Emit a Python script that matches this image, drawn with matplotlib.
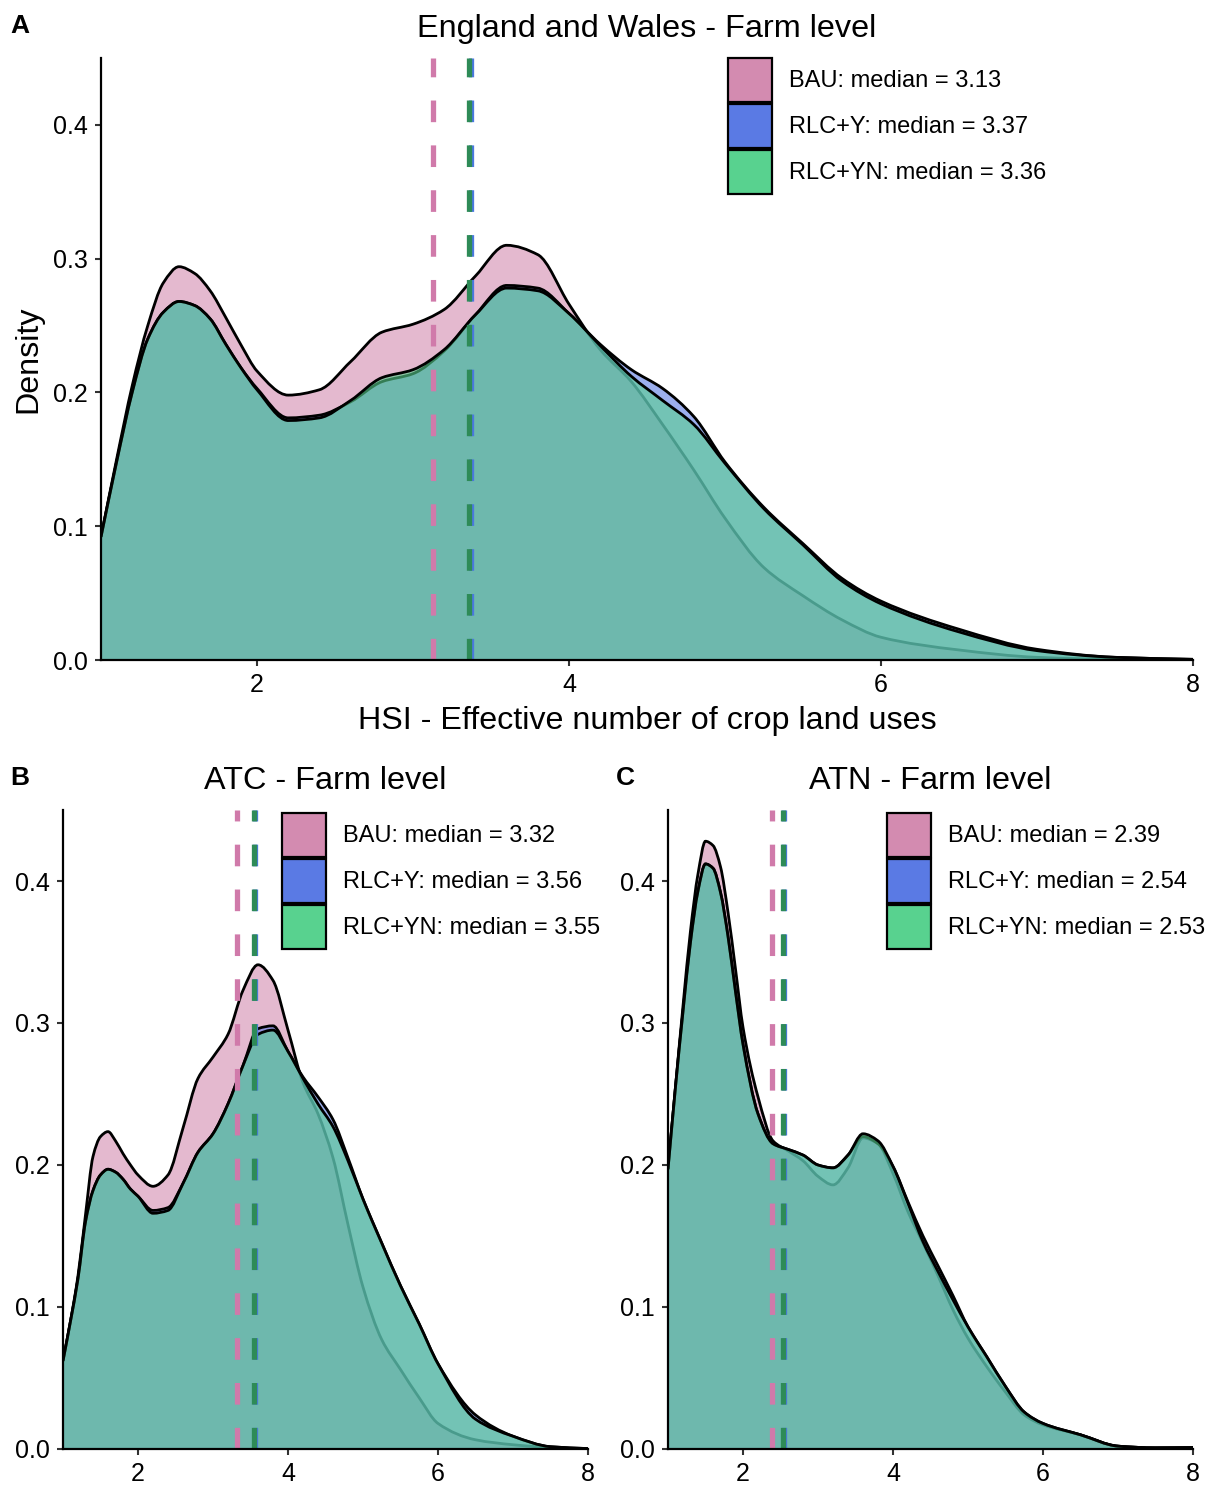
import matplotlib
matplotlib.use("Agg")
import matplotlib.pyplot as plt
from matplotlib.patches import Patch, PathPatch
from matplotlib.path import Path

plt.rcParams["font.family"] = ["Liberation Sans", "DejaVu Sans"]

W, H = 1212, 1490

# density grid shared by all three panels
GRID = [1.0, 1.1, 1.2, 1.3, 1.4, 1.5, 1.6, 1.7, 1.8, 1.9, 2.0, 2.2, 2.4, 2.6, 2.8, 3.0, 3.2,
        3.4, 3.6, 3.8, 4.0, 4.2, 4.4, 4.6, 4.8, 5.0, 5.25, 5.5, 5.75, 6.0, 6.5, 7.0, 7.5, 8.0]

SCENARIOS = ["BAU", "RLC+Y", "RLC+YN"]

# England and Wales
EW_BAU = [0.092, 0.150, 0.205, 0.250, 0.282, 0.294, 0.289, 0.276, 0.256, 0.235, 0.216, 0.198, 0.202,
          0.223, 0.245, 0.251, 0.262, 0.287, 0.310, 0.303, 0.266, 0.232, 0.208, 0.176, 0.142, 0.106,
          0.069, 0.048, 0.030, 0.017, 0.0075, 0.002, 0.0005, 0.0]
EW_Y = [0.092, 0.148, 0.200, 0.240, 0.260, 0.268, 0.265, 0.255, 0.236, 0.218, 0.203, 0.181, 0.183,
        0.193, 0.208, 0.214, 0.231, 0.258, 0.280, 0.278, 0.259, 0.236, 0.217, 0.203, 0.182, 0.148,
        0.114, 0.087, 0.061, 0.044, 0.023, 0.008, 0.002, 0.0005]
EW_YN = [0.092, 0.148, 0.200, 0.240, 0.260, 0.268, 0.265, 0.255, 0.236, 0.218, 0.202, 0.179, 0.181,
         0.194, 0.211, 0.217, 0.232, 0.258, 0.278, 0.276, 0.259, 0.235, 0.212, 0.194, 0.176, 0.147,
         0.113, 0.086, 0.059, 0.042, 0.021, 0.007, 0.002, 0.0005]
EW_MEDIANS = [3.13, 3.37, 3.36]

# ATC
ATC_BAU = [0.062, 0.090, 0.122, 0.165, 0.206, 0.220, 0.2235, 0.217, 0.208, 0.200, 0.193, 0.185, 0.193,
           0.226, 0.261, 0.276, 0.292, 0.323, 0.341, 0.330, 0.295, 0.258, 0.236, 0.205, 0.158, 0.114,
           0.077, 0.056, 0.036, 0.018, 0.0065, 0.003, 0.001, 0.0]
ATC_Y = [0.062, 0.090, 0.120, 0.160, 0.182, 0.193, 0.197, 0.195, 0.190, 0.183, 0.178, 0.168, 0.170,
         0.187, 0.209, 0.222, 0.243, 0.270, 0.296, 0.298, 0.280, 0.262, 0.248, 0.232, 0.205, 0.176,
         0.145, 0.115, 0.088, 0.060, 0.024, 0.009, 0.0016, 0.0003]
ATC_YN = [0.062, 0.090, 0.120, 0.160, 0.182, 0.193, 0.197, 0.195, 0.190, 0.183, 0.178, 0.166, 0.168,
          0.187, 0.209, 0.222, 0.243, 0.270, 0.292, 0.295, 0.280, 0.261, 0.243, 0.227, 0.203, 0.176,
          0.145, 0.115, 0.088, 0.060, 0.021, 0.009, 0.0016, 0.0003]
ATC_MEDIANS = [3.32, 3.56, 3.55]

# ATN
ATN_BAU = [0.197, 0.255, 0.312, 0.365, 0.405, 0.428, 0.425, 0.410, 0.378, 0.338, 0.297, 0.248, 0.217,
           0.210, 0.203, 0.192, 0.186, 0.198, 0.219, 0.215, 0.194, 0.167, 0.145, 0.122, 0.098, 0.078,
           0.058, 0.040, 0.024, 0.017, 0.010, 0.002, 0.0008, 0.001]
ATN_Y = [0.197, 0.255, 0.308, 0.357, 0.393, 0.412, 0.409, 0.392, 0.361, 0.322, 0.285, 0.236, 0.215,
         0.211, 0.207, 0.200, 0.198, 0.207, 0.220, 0.215, 0.199, 0.174, 0.150, 0.129, 0.108, 0.086,
         0.065, 0.044, 0.026, 0.018, 0.010, 0.002, 0.0008, 0.001]
ATN_YN = [0.197, 0.255, 0.308, 0.357, 0.393, 0.412, 0.409, 0.392, 0.361, 0.322, 0.285, 0.236, 0.215,
          0.211, 0.207, 0.200, 0.198, 0.207, 0.222, 0.217, 0.199, 0.173, 0.146, 0.125, 0.105, 0.086,
          0.065, 0.044, 0.026, 0.018, 0.010, 0.002, 0.0008, 0.001]
ATN_MEDIANS = [2.39, 2.54, 2.53]

FILLS = ["#D38BB0", "#5A7AE4", "#58D28F"]
MEDIAN_COLOURS = ["#D07AAA", "#4A78E0", "#2E8B57"]
ALPHA = 0.6


def px_box(left, top, right, bottom):
  return [left / W, 1 - bottom / H, (right - left) / W, (bottom - top) / H]


def curve_path(x, y, closed=False):
  # monotone cubic (Fritsch-Carlson tangents) drawn as bezier segments
  n = len(x)
  h = [x[i + 1] - x[i] for i in range(n - 1)]
  d = [(y[i + 1] - y[i]) / h[i] for i in range(n - 1)]
  m = [0.0] * n
  m[0], m[-1] = d[0], d[-1]
  for i in range(1, n - 1):
    if d[i - 1] * d[i] <= 0:
      m[i] = 0.0
    else:
      w1 = 2 * h[i] + h[i - 1]
      w2 = h[i] + 2 * h[i - 1]
      m[i] = (w1 + w2) / (w1 / d[i - 1] + w2 / d[i])

  verts = [(x[0], y[0])]
  codes = [Path.MOVETO]
  for i in range(n - 1):
    verts += [(x[i] + h[i] / 3, y[i] + m[i] * h[i] / 3),
              (x[i + 1] - h[i] / 3, y[i + 1] - m[i + 1] * h[i] / 3),
              (x[i + 1], y[i + 1])]
    codes += [Path.CURVE4] * 3
  if closed:
    verts += [(x[-1], 0), (x[0], 0), (x[0], y[0])]
    codes += [Path.LINETO, Path.LINETO, Path.CLOSEPOLY]
  return Path(verts, codes)


def density_panel(fig, box, curves, medians, legend_at):
  ax = fig.add_axes(box)
  for i, (y, fill) in enumerate(zip(curves, FILLS)):
    ax.add_patch(PathPatch(curve_path(GRID, y, closed=True), facecolor=fill, alpha=ALPHA,
                           lw=0, zorder=1 + 2 * i))
    ax.add_patch(PathPatch(curve_path(GRID, y), facecolor="none", edgecolor="black",
                           lw=2.0, zorder=2 + 2 * i))

  for m, col in zip(medians, MEDIAN_COLOURS):
    ax.axvline(m, color=col, lw=3.8, dashes=(4.1, 4.4), dash_capstyle="butt", zorder=8)

  ax.set_xlim(1, 8)
  ax.set_ylim(0, 0.45)
  ax.set_xticks([2, 4, 6, 8])
  ax.set_yticks([0.0, 0.1, 0.2, 0.3, 0.4])
  ax.set_yticklabels(["0.0", "0.1", "0.2", "0.3", "0.4"])
  for side in ("top", "right"):
    ax.spines[side].set_visible(False)
  for side in ("left", "bottom"):
    ax.spines[side].set_linewidth(1.6)
    ax.spines[side].set_zorder(10)
  ax.tick_params(length=4.5, width=1.5, color="#333333", labelsize=18, labelcolor="black")
  ax.tick_params(axis="y", pad=5)
  ax.tick_params(axis="x", pad=5)

  handles = [Patch(facecolor=c, edgecolor="black", lw=1.6) for c in FILLS]
  labels = [f"{s}: median = {m:.2f}" for s, m in zip(SCENARIOS, medians)]
  ax.legend(handles, labels, loc="upper left", bbox_to_anchor=(legend_at[0] / W, 1 - legend_at[1] / H),
            bbox_transform=fig.transFigure, frameon=False, borderpad=0, borderaxespad=0,
            fontsize=17, handlelength=1.85, handleheight=2.49, labelspacing=0.09,
            handletextpad=0.72)
  return ax


def main():
  fig = plt.figure(figsize=(W / 100, H / 100), dpi=100)

  density_panel(fig, px_box(101, 58, 1193, 660), [EW_BAU, EW_Y, EW_YN], EW_MEDIANS, (728, 58))
  density_panel(fig, px_box(63, 810, 588, 1449), [ATC_BAU, ATC_Y, ATC_YN], ATC_MEDIANS, (282, 813))
  density_panel(fig, px_box(668, 810, 1193, 1449), [ATN_BAU, ATN_Y, ATN_YN], ATN_MEDIANS, (887, 813))

  fig.text(647 / W, 1 - 37 / H, "England and Wales - Farm level", fontsize=23.3, ha="center", va="baseline")
  fig.text(325.5 / W, 1 - 789 / H, "ATC - Farm level", fontsize=23.3, ha="center", va="baseline")
  fig.text(930.5 / W, 1 - 789 / H, "ATN - Farm level", fontsize=23.3, ha="center", va="baseline")

  fig.text(647 / W, 1 - 729 / H, "HSI - Effective number of crop land uses", fontsize=23.2,
           ha="center", va="baseline")
  fig.text(28 / W, 1 - 359 / H, "Density", fontsize=23.2, rotation=90, ha="center", va="center")

  for letter, x, y in (("A", 10, 33), ("B", 10, 785), ("C", 616, 785)):
    fig.text(x / W, 1 - y / H, letter, fontsize=19, fontweight="bold", ha="left", va="baseline")

  fig.savefig("out.png", dpi=100)


if __name__ == "__main__":
  main()
